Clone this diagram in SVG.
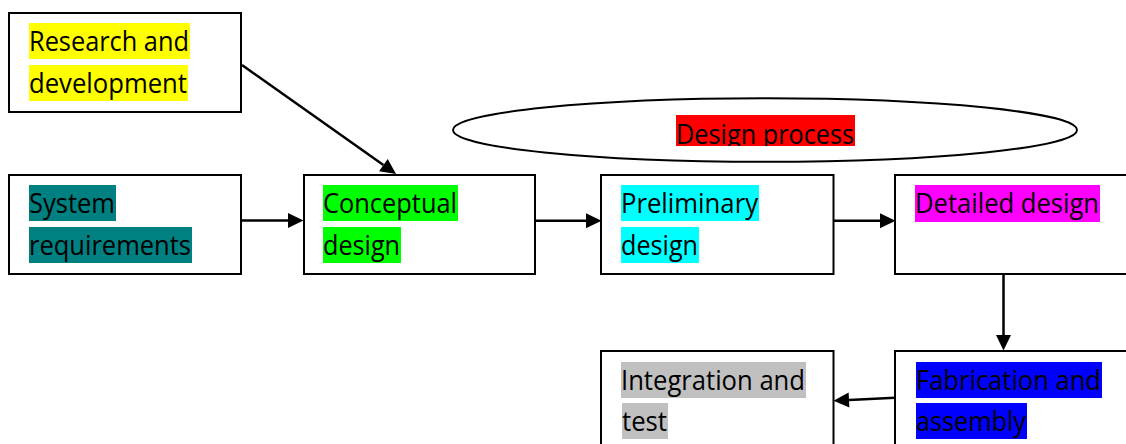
<svg xmlns="http://www.w3.org/2000/svg" width="1126" height="444" viewBox="0 0 1126 444">
  <style>
    .box { fill: #ffffff; stroke: #000000; stroke-width: 2; }
    .oval { fill: #ffffff; stroke: #000000; stroke-width: 2; }
    .lbl { font-family: "Open Sans", "Noto Sans", "Liberation Sans", sans-serif; font-size: 26.5px; fill: #000000; }
    .wire { fill: none; stroke: #000000; stroke-width: 2.5; }
  </style>
  <defs>
    <marker id="head" markerUnits="userSpaceOnUse" markerWidth="17" markerHeight="17" refX="0" refY="7.5" orient="auto" overflow="visible">
      <path d="M0,0 L15.5,7.5 L0,15 Z" fill="#000000"/>
    </marker>
    <clipPath id="clip-process">
      <rect x="676" y="115" width="179" height="31"/>
    </clipPath>
  </defs>

  <rect width="1126" height="444" fill="#ffffff"/>

  <g id="research">
    <rect class="box" x="9" y="13" width="232" height="99"/>
    <rect x="29" y="23" width="161" height="36" fill="#ffff00"/>
    <rect x="29" y="65" width="159" height="36" fill="#ffff00"/>
    <text class="lbl" x="29" y="51" textLength="160" lengthAdjust="spacingAndGlyphs">Research and</text>
    <text class="lbl" x="29" y="93" textLength="158" lengthAdjust="spacingAndGlyphs">development</text>
  </g>

  <g id="requirements">
    <rect class="box" x="9" y="175" width="232" height="99"/>
    <rect x="29" y="185" width="87" height="36" fill="#008080"/>
    <rect x="29" y="227" width="163" height="36" fill="#008080"/>
    <text class="lbl" x="29" y="213" textLength="86" lengthAdjust="spacingAndGlyphs">System</text>
    <text class="lbl" x="29" y="255" textLength="162" lengthAdjust="spacingAndGlyphs">requirements</text>
  </g>

  <g id="conceptual">
    <rect class="box" x="304" y="175" width="231" height="99"/>
    <rect x="323" y="185" width="135" height="36" fill="#00ff00"/>
    <rect x="323" y="227" width="78" height="36" fill="#00ff00"/>
    <text class="lbl" x="323" y="213" textLength="134" lengthAdjust="spacingAndGlyphs">Conceptual</text>
    <text class="lbl" x="323" y="255" textLength="77" lengthAdjust="spacingAndGlyphs">design</text>
  </g>

  <g id="process">
    <ellipse class="oval" cx="765" cy="130" rx="312" ry="31.7"/>
    <rect x="676" y="115" width="179" height="31" fill="#ff0000"/>
    <text class="lbl" x="676" y="144" textLength="178" lengthAdjust="spacingAndGlyphs" clip-path="url(#clip-process)">Design process</text>
  </g>

  <g id="preliminary">
    <rect class="box" x="601" y="175" width="232.5" height="99"/>
    <rect x="621" y="185" width="138" height="36" fill="#00ffff"/>
    <rect x="621" y="227" width="78" height="36" fill="#00ffff"/>
    <text class="lbl" x="621" y="213" textLength="137" lengthAdjust="spacingAndGlyphs">Preliminary</text>
    <text class="lbl" x="621" y="255" textLength="77" lengthAdjust="spacingAndGlyphs">design</text>
  </g>

  <g id="detailed">
    <rect class="box" x="895" y="175" width="250" height="99"/>
    <rect x="915" y="185" width="185" height="37" fill="#ff00ff"/>
    <text class="lbl" x="915" y="213" textLength="184" lengthAdjust="spacingAndGlyphs">Detailed design</text>
  </g>

  <g id="integration">
    <rect class="box" x="601" y="351" width="232.5" height="110"/>
    <rect x="621" y="362" width="185" height="36" fill="#c0c0c0"/>
    <rect x="622" y="403" width="46" height="36" fill="#c0c0c0"/>
    <text class="lbl" x="621" y="390" textLength="184" lengthAdjust="spacingAndGlyphs">Integration and</text>
    <text class="lbl" x="622" y="431" textLength="45" lengthAdjust="spacingAndGlyphs">test</text>
  </g>

  <g id="fabrication">
    <rect class="box" x="895" y="351" width="250" height="110"/>
    <rect x="916" y="362" width="186" height="36" fill="#0000ff"/>
    <rect x="916" y="403" width="111" height="36" fill="#0000ff"/>
    <text class="lbl" x="916" y="390" textLength="185" lengthAdjust="spacingAndGlyphs">Fabrication and</text>
    <text class="lbl" x="916" y="431" textLength="110" lengthAdjust="spacingAndGlyphs">assembly</text>
  </g>

  <g id="connectors">
    <!-- research -> conceptual (diagonal) -->
    <path class="wire" d="M242,65 L383.4,165.1" marker-end="url(#head)"/>
    <!-- requirements -> conceptual -->
    <path class="wire" d="M241,220.5 L288,220.5" marker-end="url(#head)"/>
    <!-- conceptual -> preliminary -->
    <path class="wire" d="M535,220.7 L586,220.7" marker-end="url(#head)"/>
    <!-- preliminary -> detailed -->
    <path class="wire" d="M834,220.7 L880,220.7" marker-end="url(#head)"/>
    <!-- detailed -> fabrication -->
    <path class="wire" d="M1003.5,274 L1003.5,335" marker-end="url(#head)"/>
    <!-- fabrication -> integration -->
    <path class="wire" d="M895,397.8 L849,400.1" marker-end="url(#head)"/>
  </g>
</svg>
